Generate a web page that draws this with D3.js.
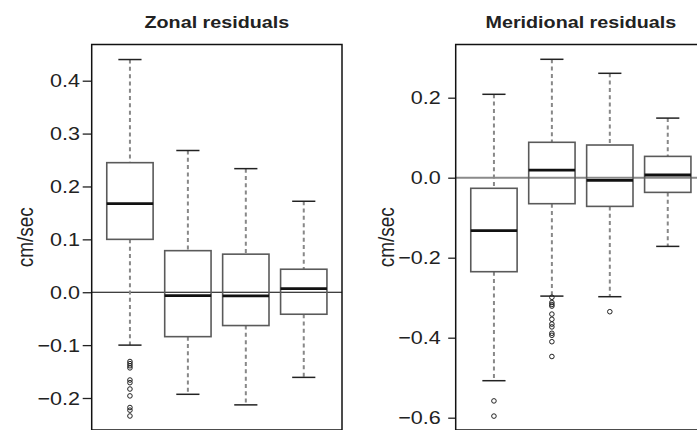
<!DOCTYPE html>
<html><head><meta charset="utf-8">
<script src="https://cdn.jsdelivr.net/npm/d3@7"></script>
<style>
html,body{margin:0;padding:0;background:#fff;}
svg{display:block;}
text{font-family:"Liberation Sans",Arial,Helvetica,sans-serif;}
</style></head>
<body>
<svg id="chart" width="697" height="430"></svg>
<script>
// ---- data ----
const groups = [1, 2, 3, 4];
// Zonal residuals: [lowerWhisker, Q1, median, Q3, upperWhisker]
const zonalLow    = [-0.100, -0.193, -0.213, -0.161];
const zonalQ1     = [0.100, -0.084, -0.063, -0.0416];
const zonalMedian = [0.1675, -0.0064, -0.007, 0.0068];
const zonalQ3     = [0.245, 0.0786, 0.072, 0.0435];
const zonalHigh   = [0.440, 0.268, 0.2337, 0.172];
const zonalOutliers = [
  [-0.131, -0.135, -0.139, -0.143, -0.166, -0.171, -0.183, -0.196, -0.218, -0.223, -0.234],
  [], [], []
];
// Meridional residuals
const meridLow    = [-0.5075, -0.296, -0.2975, -0.1717];
const meridQ1     = [-0.235, -0.065, -0.0717, -0.0367];
const meridMedian = [-0.1325, 0.019, -0.0067, 0.0067];
const meridQ3     = [-0.0265, 0.0885, 0.0817, 0.0533];
const meridHigh   = [0.2085, 0.296, 0.261, 0.149];
const meridOutliers = [
  [-0.558, -0.596],
  [-0.299, -0.312, -0.317, -0.321, -0.341, -0.354, -0.366, -0.373, -0.389, -0.394, -0.41, -0.447],
  [-0.335],
  []
];
const zonalTicks = [-0.2, -0.1, 0.0, 0.1, 0.2, 0.3, 0.4];
const meridTicks = [-0.6, -0.4, -0.2, 0.0, 0.2];
const titles = ["Zonal residuals", "Meridional residuals"];
const yLabel = "cm/sec";

// ---- layout ----
const svg = d3.select("#chart");
const SX = 1.16; // horizontal text stretch
const fmt = v => (v < 0 ? "\u2212" : "") + Math.abs(v).toFixed(1);

const panels = [
  {left: 91.7, right: 342, top: 44.5, bottom: 430,
   yDomain: [-0.2, 0.4], yRange: [398, 80.7],
   low: zonalLow, q1: zonalQ1, med: zonalMedian, q3: zonalQ3, high: zonalHigh,
   out: zonalOutliers, ticks: zonalTicks, title: titles[0],
   tickLen: 9, labelX: 80, ylabX: 33, zeroColor: "#000", zeroWidth: 1.1},
  {left: 455.7, right: 706, top: 44.5, bottom: 430,
   yDomain: [-0.6, 0.2], yRange: [417.7, 97.7],
   low: meridLow, q1: meridQ1, med: meridMedian, q3: meridQ3, high: meridHigh,
   out: meridOutliers, ticks: meridTicks, title: titles[1],
   tickLen: 7.5, labelX: 440.7, ylabX: 394, zeroColor: "#8a8a8a", zeroWidth: 2}
];

panels.forEach(p => {
  const x = d3.scaleLinear().domain([0.34, 4.66]).range([p.left, p.right]);
  const y = d3.scaleLinear().domain(p.yDomain).range(p.yRange);
  const g = svg.append("g");
  const bw = x(0.4) - x(0);   // half box width
  const cw = x(0.2) - x(0);   // half cap width

  // y axis ticks
  const axis = d3.axisLeft(y).tickValues(p.ticks).tickSize(p.tickLen).tickFormat("");
  const ag = g.append("g").attr("transform", `translate(${p.left},0)`).call(axis);
  ag.select(".domain").remove();
  ag.selectAll(".tick line").attr("stroke", "#222").attr("stroke-width", 1.3);
  g.selectAll(".ytl").data(p.ticks).enter().append("text")
    .attr("transform", d => `translate(${p.labelX},${y(d) + 6.7}) scale(${SX},1)`)
    .attr("text-anchor", "end").attr("font-size", 18.6).attr("fill", "#222")
    .text(fmt);

  // zero line
  g.append("line").attr("x1", p.left).attr("x2", Math.min(p.right, 697))
    .attr("y1", y(0)).attr("y2", y(0))
    .attr("stroke", p.zeroColor).attr("stroke-width", p.zeroWidth);

  const idx = groups.map((d, i) => i);
  // whiskers
  g.selectAll(".wu").data(idx).enter().append("line")
    .attr("x1", i => x(groups[i])).attr("x2", i => x(groups[i]))
    .attr("y1", i => y(p.high[i])).attr("y2", i => y(p.q3[i]))
    .attr("stroke", "#888").attr("stroke-width", 2).attr("stroke-dasharray", "4,3.3");
  g.selectAll(".wl").data(idx).enter().append("line")
    .attr("x1", i => x(groups[i])).attr("x2", i => x(groups[i]))
    .attr("y1", i => y(p.q1[i])).attr("y2", i => y(p.low[i]))
    .attr("stroke", "#888").attr("stroke-width", 2).attr("stroke-dasharray", "4,3.3");
  // caps
  [p.high, p.low].forEach(arr => {
    g.selectAll(null).data(idx).enter().append("line")
      .attr("x1", i => x(groups[i]) - cw).attr("x2", i => x(groups[i]) + cw)
      .attr("y1", i => y(arr[i])).attr("y2", i => y(arr[i]))
      .attr("stroke", "#222").attr("stroke-width", 1.5);
  });
  // boxes
  g.selectAll(".box").data(idx).enter().append("rect")
    .attr("x", i => x(groups[i]) - bw).attr("width", 2 * bw)
    .attr("y", i => y(p.q3[i])).attr("height", i => y(p.q1[i]) - y(p.q3[i]))
    .attr("fill", "none").attr("stroke", "#5a5a5a").attr("stroke-width", 1.6);
  // medians
  g.selectAll(".med").data(idx).enter().append("line")
    .attr("x1", i => x(groups[i]) - bw).attr("x2", i => x(groups[i]) + bw)
    .attr("y1", i => y(p.med[i])).attr("y2", i => y(p.med[i]))
    .attr("stroke", "#111").attr("stroke-width", 2.8);
  // outliers
  const pts = [];
  p.out.forEach((arr, i) => arr.forEach(v => pts.push({g: groups[i], v})));
  g.selectAll(".out").data(pts).enter().append("circle")
    .attr("cx", d => x(d.g)).attr("cy", d => y(d.v)).attr("r", 2.3)
    .attr("fill", "none").attr("stroke", "#222").attr("stroke-width", 1);

  // frame
  g.append("rect").attr("x", p.left).attr("y", p.top)
    .attr("width", p.right - p.left).attr("height", p.bottom - p.top)
    .attr("fill", "none").attr("stroke", "#111").attr("stroke-width", 1.5);

  // title
  g.append("text")
    .attr("transform", `translate(${(p.left + p.right) / 2},28.3) scale(${SX},1)`)
    .attr("text-anchor", "middle").attr("font-size", 17).attr("font-weight", "bold")
    .attr("fill", "#222").text(p.title);
  // y label
  g.append("text")
    .attr("transform", `translate(${p.ylabX},${(p.top + p.bottom) / 2}) scale(${SX},1) rotate(-90)`)
    .attr("text-anchor", "middle").attr("font-size", 19).attr("fill", "#222")
    .text(yLabel);
});
</script>
</body></html>
